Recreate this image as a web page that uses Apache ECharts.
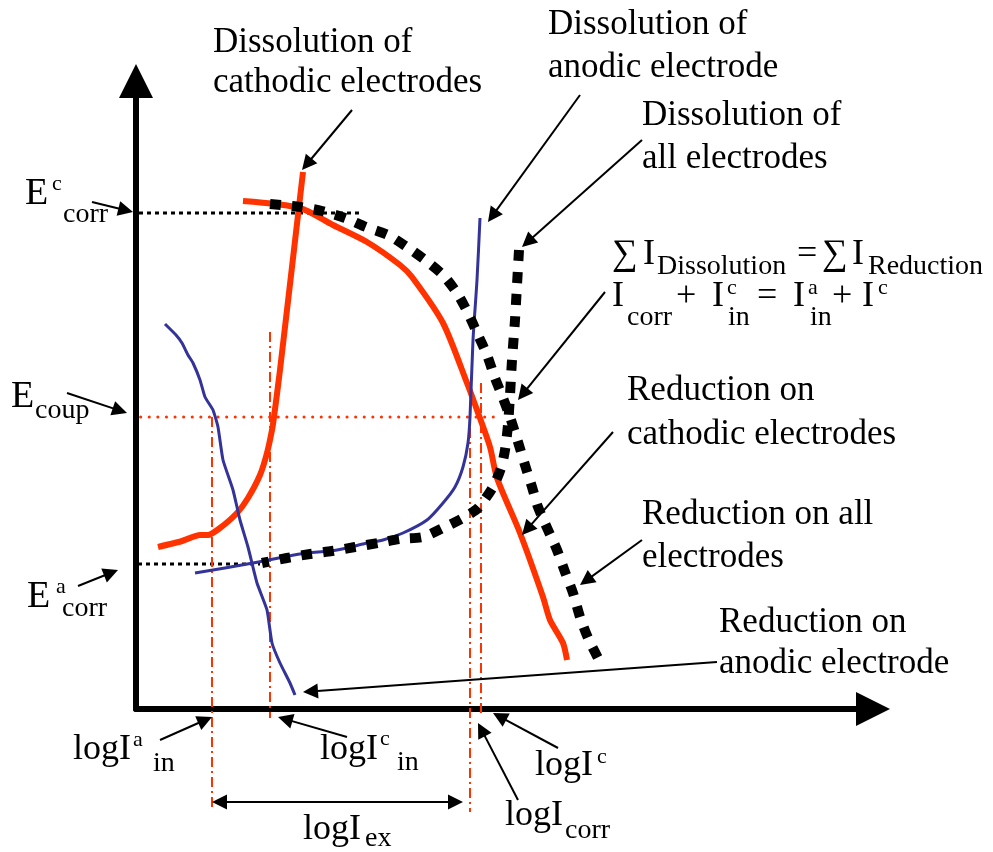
<!DOCTYPE html>
<html>
<head>
<meta charset="utf-8">
<title>Mixed potential of coupled electrodes</title>
<script src="https://cdn.jsdelivr.net/npm/echarts@6/dist/echarts.min.js"></script>
<style>
  html, body { margin: 0; padding: 0; background: #fff; }
  #chart { width: 993px; height: 852px; }
</style>
</head>
<body>
<div id="chart"></div>
<script>
// Polarization diagram: potential E (vertical) against log I (horizontal).
// All values are in diagram units measured from the axis corner.

// characteristic potentials
const E_corr_c = 496;
const E_corr_a = 145;
const E_coup = 292;

// characteristic currents (log scale positions)
const logI_a_in = 76;
const logI_c_in = 134;
const logI_corr = 334;
const logI_c = 345;

// dissolution branch of the cathodic electrodes (red, steep)
const cathodicDissolution = [[22,162],[46,168],[64,174],[72,174],[84,181],[101,196],[112,211],[124,234],[131,256],[136,279],[138,292],[144,339],[167,537]];
// reduction branch on the cathodic electrodes (red)
const cathodicReduction = [[107,508],[164,501],[197,484],[231,467],[264,444],[276,432],[307,386],[331,326],[341,299],[354,262],[361,231],[384,176],[407,112],[414,89],[427,66],[431,49]];
// dissolution of the anodic electrode (blue)
const anodicDissolution = [[59,136],[117,146],[164,155],[201,159],[227,165],[247,169],[267,176],[291,189],[307,206],[319,222],[327,242],[332,266],[334,292],[337,369],[341,429],[344,491]];
// reduction on the anodic electrode (blue)
const anodicReduction = [[29,385],[40,374],[46,366],[52,354],[57,346],[64,329],[69,312],[77,299],[82,282],[87,249],[97,219],[104,189],[112,162],[121,126],[131,99],[136,66],[144,46],[154,26],[159,14]];
// sum of reduction on all electrodes (black dotted)
const totalReduction = [[134,505],[164,502],[186,498],[209,491],[230,482],[252,474],[271,462],[289,449],[307,434],[321,416],[332,396],[342,374],[351,354],[359,331],[367,311],[374,292],[382,267],[389,244],[396,222],[402,202],[412,179],[421,159],[429,137],[437,116],[444,92],[452,71],[464,47]];
// sum of dissolution of all electrodes (black dotted)
const totalDissolution = [[383,459],[381,424],[379,389],[376,349],[374,314],[372,284],[369,259],[365,241],[357,222],[342,201],[327,191],[307,181],[287,172],[264,170],[242,166],[219,162],[196,158],[174,155],[151,151],[126,146]];

// annotation pointers: [from, to]
const pointers = [
  [[216,599],[166,539]],
  [[-44,507],[-3,497]],
  [[-69,316],[-9,296]],
  [[-58,123],[-18,139]],
  [[444,614],[352,487]],
  [[506,569],[386,462]],
  [[469,417],[382,309]],
  [[477,277],[386,174]],
  [[506,169],[444,124]],
  [[581,47],[167,17]],
  [[24,-31],[76,-8]],
  [[211,-28],[142,-8]],
  [[382,-91],[342,-14]],
  [[422,-39],[357,-4]]
];
// exchange current span
const exchangeSpan = [[logI_a_in,-93],[327,-93]];

const RED = '#ff3300';
const BLUE = '#333399';
const BLACK = '#000000';
const SERIF = '"Liberation Serif", "Times New Roman", "DejaVu Serif", serif';
const HEAD = 15;

function curve(data, color, width, type, z, smooth) {
  return {
    type: 'line', data: data, symbol: 'none', showSymbol: false,
    smooth: smooth, clip: false, silent: true, z: z,
    lineStyle: { color: color, width: width, type: type, cap: 'butt', join: 'round' }
  };
}

function guide(data, color, width, type, cap) {
  return {
    type: 'line', data: data, symbol: 'none', showSymbol: false,
    clip: false, silent: true, z: 1,
    lineStyle: { color: color, width: width, type: type, cap: cap || 'butt' }
  };
}

// pull an arrow end back so the triangle tip lands on the target
function pull(from, to, d) {
  const dx = to[0] - from[0], dy = to[1] - from[1];
  const len = Math.hypot(dx, dy);
  const k = (len - d) / len;
  return [from[0] + dx * k, from[1] + dy * k];
}

const pointerData = pointers.map(p => ({ coords: [p[0], pull(p[0], p[1], HEAD / 2)] }));
const spanData = [{ coords: [pull(exchangeSpan[1], exchangeSpan[0], HEAD / 2), pull(exchangeSpan[0], exchangeSpan[1], HEAD / 2)] }];

// text: [content, left, baseline, size]
const texts = [
  ['Dissolution of', 213, 55, 35],
  ['cathodic electrodes', 213, 95, 35],
  ['Dissolution of', 548, 37, 35],
  ['anodic electrode', 548, 80, 35],
  ['Dissolution of', 642, 128, 35],
  ['all electrodes', 642, 171, 35],
  ['Reduction on', 627, 403, 35],
  ['cathodic electrodes', 627, 447, 35],
  ['Reduction on all', 642, 527, 35],
  ['electrodes', 642, 570, 35],
  ['Reduction on', 719, 635, 35],
  ['anodic electrode', 719, 676, 35],
  ['E', 25, 207, 38], ['c', 52, 192, 22], ['corr', 63, 224, 28],
  ['E', 11, 410, 38], ['coup', 35, 420, 28],
  ['E', 27, 610, 38], ['a', 56, 595, 22], ['corr', 62, 618, 28],
  ['logI', 73, 762, 36], ['a', 133, 748, 22], ['in', 153, 773, 28],
  ['logI', 320, 762, 36], ['c', 380, 747, 22], ['in', 397, 772, 28],
  ['logI', 535, 778, 36], ['c', 597, 765, 22],
  ['logI', 505, 828, 36], ['corr', 565, 840, 28],
  ['logI', 303, 842, 36], ['ex', 365, 848, 28],
  ['\u2211', 612, 267, 36], ['I', 643, 267, 36], ['Dissolution', 657, 276, 28],
  ['=', 797, 267, 36], ['\u2211', 822, 267, 36], ['I', 852, 267, 36], ['Reduction', 868, 276, 28],
  ['I', 612, 309, 36], ['corr', 627, 327, 28], ['+', 676, 309, 36],
  ['I', 712, 309, 36], ['c', 727, 296, 22], ['in', 728, 327, 28],
  ['=', 757, 309, 36], ['I', 793, 309, 36], ['a', 808, 296, 22], ['in', 810, 327, 28],
  ['+', 832, 309, 36], ['I', 862, 309, 36], ['c', 878, 296, 22]
];

const graphics = texts.map(t => ({
  type: 'text', silent: true, z: 10,
  x: t[1], y: t[2] - t[3] * 0.3375,
  style: { text: t[0], font: t[3] + 'px ' + SERIF, fill: BLACK, align: 'left', verticalAlign: 'middle' }
}));

const chart = echarts.init(document.getElementById('chart'), null, { renderer: 'canvas' });

chart.setOption({
  animation: false,
  backgroundColor: '#ffffff',
  grid: { left: 136, right: 120, top: 81, bottom: 143, containLabel: false, outerBoundsMode: 'none' },
  xAxis: {
    type: 'value', min: 0, max: 737,
    axisLine: { show: true, onZero: false, symbol: ['none', 'triangle'], symbolSize: [34, 34], lineStyle: { color: BLACK, width: 6 } },
    axisTick: { show: false }, axisLabel: { show: false }, splitLine: { show: false }
  },
  yAxis: {
    type: 'value', min: 0, max: 628,
    axisLine: { show: true, onZero: false, symbol: ['none', 'triangle'], symbolSize: [34, 34], lineStyle: { color: BLACK, width: 6 } },
    axisTick: { show: false }, axisLabel: { show: false }, splitLine: { show: false }
  },
  graphic: graphics,
  series: [
    guide([[3, E_corr_c], [224, E_corr_c]], BLACK, 3, [4, 4]),
    guide([[-14, E_corr_a], [124, E_corr_a]], BLACK, 3, [4, 4]),
    guide([[-4, E_coup], [364, E_coup]], RED, 3, [0.1, 8.5], 'round'),
    guide([[logI_a_in, E_coup], [logI_a_in, -98]], RED, 2, [10, 4, 2, 4]),
    guide([[logI_c_in, 377], [logI_c_in, -9]], RED, 2, [10, 4, 2, 4]),
    guide([[logI_corr, 281], [logI_corr, -103]], RED, 2, [10, 4, 2, 4]),
    guide([[logI_c, 326], [logI_c, -6]], RED, 2, [10, 4, 2, 4]),

    curve(cathodicDissolution, RED, 6, 'solid', 2, 0.2),
    curve(cathodicReduction, RED, 6, 'solid', 2, 0.25),
    curve(anodicDissolution, BLUE, 3, 'solid', 3, 0.25),
    curve(anodicReduction, BLUE, 3, 'solid', 3, 0.15),
    curve(totalReduction, BLACK, 10, [11, 11], 4, 0.25),
    curve(totalDissolution, BLACK, 10, [11, 11], 4, 0.25),

    {
      type: 'lines', coordinateSystem: 'cartesian2d', silent: true, z: 5, clip: false,
      symbol: ['none', 'triangle'], symbolSize: HEAD,
      lineStyle: { color: BLACK, width: 2, opacity: 1, curveness: 0 },
      data: pointerData
    },
    {
      type: 'lines', coordinateSystem: 'cartesian2d', silent: true, z: 5, clip: false,
      symbol: ['triangle', 'triangle'], symbolSize: HEAD,
      lineStyle: { color: BLACK, width: 2, opacity: 1, curveness: 0 },
      data: spanData
    }
  ]
});
</script>
</body>
</html>
